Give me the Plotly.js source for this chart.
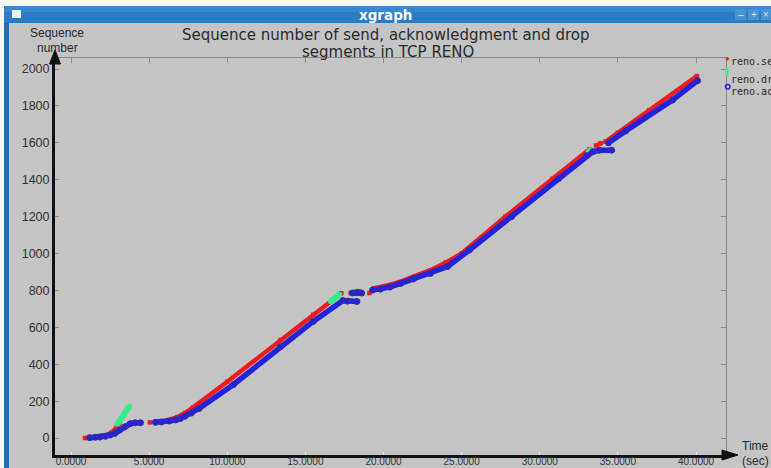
<!DOCTYPE html>
<html>
<head>
<meta charset="utf-8">
<script src="https://cdn.plot.ly/plotly-3.0.1.min.js"></script>
<style>
html,body{margin:0;padding:0;background:#c4c4c4;overflow:hidden;}
#chart{width:771px;height:468px;}
</style>
</head>
<body>
<div id="chart"></div>
<script>
// ---- data ----
const xTickVals = [0, 5, 10, 15, 20, 25, 30, 35, 40];
const xTickText = ['0.0000','5.0000','10.0000','15.0000','20.0000','25.0000','30.0000','35.0000','40.0000'];
const yTickVals = [0, 200, 400, 600, 800, 1000, 1200, 1400, 1600, 1800, 2000];

const sendTime = [0.9,1.4,1.9,2.3,2.6,2.9,3.1,null,5.05,null,6.2,6.8,7.3,7.8,10.0,13.4,15.5,17.3,null,17.9,18.2,18.4,null,19.1,null,19.4,20.0,21.0,22.0,23.0,24.0,25.0,27.8,30.8,33.2,null,33.6,33.9,null,34.2,35.0,37.0,40.06];
const sendSeq  = [0,3,7,15,30,55,75,null,85,null,97,113,135,165,305,531,668,785,null,786,792,796,null,786,null,812,822,845,875,910,952,1000,1200,1405,1566,null,1585,1598,null,1606,1655,1777,1962];

const dropTime = [2.95,3.15,3.35,3.55,3.75,null,16.6,16.9,17.2,null,33.1,33.3];
const dropSeq  = [75,100,125,150,172,null,740,762,780,null,1553,1563];

const ackTime = [1.2,1.55,1.85,2.2,2.5,2.8,3.1,3.45,3.8,4.1,4.45,null,5.4,5.8,6.3,6.7,7.0,7.3,7.7,8.2,10.4,13.4,15.5,17.4,17.7,18.3,null,18.0,18.3,18.6,null,19.3,19.8,20.4,21.1,21.9,23.0,24.1,25.5,28.2,31.2,33.0,33.4,33.8,34.6,null,34.4,35.5,38.5,40.1];
const ackSeq  = [2,4,5,9,16,25,43,61,78,83,83,null,85,87,92,98,106,118,135,160,290,495,632,745,742,740,null,786,787,786,null,802,807,818,838,862,892,930,1019,1200,1405,1530,1552,1560,1560,null,1600,1665,1832,1937];

const legendNames = ['reno.send', 'reno.drop', 'reno.ack'];
const seriesColors = ['#ee1c1c', '#36ec88', '#2323dc'];

// ---- page geometry helpers (pixels -> paper) ----
const L = 55, R = 726, T = 58, B = 455, PW = 771, PH = 468;
const px = x => (x - L) / (R - L);
const py = y => (B - y) / (B - T);

const traces = [
  {x: sendTime, y: sendSeq, mode: 'lines+markers', name: legendNames[0],
   line: {color: seriesColors[0], width: 4.5}, marker: {color: seriesColors[0], size: 4.5, symbol: 'square'}},
  {x: dropTime, y: dropSeq, mode: 'lines+markers', name: legendNames[1],
   line: {color: seriesColors[1], width: 6}, marker: {color: seriesColors[1], size: 5}},
  {x: ackTime, y: ackSeq, mode: 'lines+markers', name: legendNames[2],
   line: {color: seriesColors[2], width: 5.5}, marker: {color: seriesColors[2], size: 6, line: {color: '#3a2f9a', width: 1}}},
  {x: [], y: [], xaxis: 'x2', yaxis: 'y2', showlegend: false, hoverinfo: 'skip', mode: 'markers'}
];

const tickFontX = {family: 'Liberation Sans, Arial, sans-serif', size: 10, color: '#333'};
const tickFontY = {family: 'Liberation Sans, Arial, sans-serif', size: 12.5, color: '#333'};
const xRange = [-1.024, 41.92];
const yRange = [-92, 2060];

const shapes = [
  {type: 'rect', xref: 'paper', yref: 'paper', x0: px(0), x1: px(PW), y0: py(6), y1: py(0), fillcolor: '#f4f6f8', line: {width: 0}},
  {type: 'rect', xref: 'paper', yref: 'paper', x0: px(0), x1: px(4), y0: py(PH), y1: py(0), fillcolor: '#f4f6f8', line: {width: 0}},
  {type: 'rect', xref: 'paper', yref: 'paper', x0: px(4), x1: px(9), y0: py(PH), y1: py(6), fillcolor: '#1f6fb2', line: {width: 0}},
  {type: 'rect', xref: 'paper', yref: 'paper', x0: px(4), x1: px(PW), y0: py(23), y1: py(6), fillcolor: '#2a7dc4', line: {width: 0}},
  {type: 'rect', xref: 'paper', yref: 'paper', x0: px(4), x1: px(PW), y0: py(12), y1: py(6), fillcolor: '#3589cf', line: {width: 0}},
  {type: 'rect', xref: 'paper', yref: 'paper', x0: px(12), x1: px(21), y0: py(18), y1: py(10), fillcolor: '#eef2f6', line: {width: 0}},
  {type: 'rect', xref: 'paper', yref: 'paper', x0: px(735), x1: px(746), y0: py(20), y1: py(9), fillcolor: '#4a93d2', line: {width: 0}},
  {type: 'rect', xref: 'paper', yref: 'paper', x0: px(748), x1: px(759), y0: py(20), y1: py(9), fillcolor: '#4a93d2', line: {width: 0}},
  {type: 'rect', xref: 'paper', yref: 'paper', x0: px(761), x1: px(772), y0: py(20), y1: py(9), fillcolor: '#4a93d2', line: {width: 0}},
  {type: 'path', xref: 'paper', yref: 'paper',
   path: `M ${px(722)} ${py(450)} L ${px(738)} ${py(455)} L ${px(722)} ${py(460)} Z`, fillcolor: '#111', line: {color: '#111', width: 1}},
  {type: 'path', xref: 'paper', yref: 'paper',
   path: `M ${px(49.5)} ${py(64)} L ${px(55)} ${py(50)} L ${px(60.5)} ${py(64)} Z`, fillcolor: '#111', line: {color: '#111', width: 1}},
  {type: 'circle', xref: 'paper', yref: 'paper', x0: px(725.5), x1: px(729), y0: py(60.5), y1: py(57), fillcolor: seriesColors[0], line: {width: 0}},
  {type: 'rect', xref: 'paper', yref: 'paper', x0: px(725.5), x1: px(728.5), y0: py(76), y1: py(68), fillcolor: seriesColors[1], line: {width: 0}},
  {type: 'circle', xref: 'paper', yref: 'paper', x0: px(725.5), x1: px(730), y0: py(89), y1: py(84.5), fillcolor: 'rgba(0,0,0,0)', line: {color: seriesColors[2], width: 1.5}}
];

const sansTxt = 'Liberation Sans, Arial, sans-serif';
const monoTxt = 'DejaVu Sans Mono, Liberation Mono, monospace';
const ann = (x, y, text, size, opts = {}) => Object.assign({
  xref: 'paper', yref: 'paper', x: px(x), y: py(y), text: text, showarrow: false,
  xanchor: 'center', yanchor: 'middle', font: {family: sansTxt, size: size, color: '#2a2a2a'}
}, opts);

const annotations = [
  ann(385, 14.5, '<b>xgraph</b>', 13.5, {font: {family: 'DejaVu Sans, sans-serif', size: 13.5, color: '#ffffff'}}),
  ann(740.5, 14.5, '–', 10, {font: {family: sansTxt, size: 10, color: '#cfe3f5'}}),
  ann(753.5, 14.5, '+', 10, {font: {family: sansTxt, size: 10, color: '#cfe3f5'}}),
  ann(766.5, 14.5, '×', 10, {font: {family: sansTxt, size: 10, color: '#cfe3f5'}}),
  ann(385, 35, 'Sequence number of send, acknowledgment and drop', 15, {font: {family: 'DejaVu Sans, sans-serif', size: 15, color: '#2a2a2a'}}),
  ann(388, 52, 'segments in TCP RENO', 15, {font: {family: 'DejaVu Sans, sans-serif', size: 15, color: '#2a2a2a'}}),
  ann(57, 33.5, 'Sequence', 12),
  ann(57, 48, 'number', 12),
  ann(755, 446, 'Time', 12),
  ann(755, 461, '(sec)', 12),
  ann(729, 62, legendNames[0], 10, {xanchor: 'left', font: {family: monoTxt, size: 10, color: '#2a2a2a'}}),
  ann(729, 79, legendNames[1], 10, {xanchor: 'left', font: {family: monoTxt, size: 10, color: '#2a2a2a'}}),
  ann(729, 91, legendNames[2], 10, {xanchor: 'left', font: {family: monoTxt, size: 10, color: '#2a2a2a'}})
];

const layout = {
  width: PW, height: PH,
  margin: {l: L, r: PW - R, t: T, b: PH - B, pad: 0},
  paper_bgcolor: '#c4c4c4', plot_bgcolor: '#c4c4c4',
  showlegend: false,
  xaxis: {range: xRange, tickvals: xTickVals, ticktext: xTickText, tickfont: tickFontX, ticklabelstandoff: -5,
          showline: true, linecolor: '#111', linewidth: 3, ticks: 'inside', ticklen: 3, tickcolor: '#e6e6e6',
          showgrid: false, zeroline: false, fixedrange: true},
  yaxis: {range: yRange, tickvals: yTickVals, tickfont: tickFontY,
          showline: true, linecolor: '#111', linewidth: 3, ticks: 'inside', ticklen: 4, tickcolor: '#8a8a8a',
          showgrid: false, zeroline: false, fixedrange: true},
  xaxis2: {range: xRange, overlaying: 'x', side: 'top', anchor: 'y2', tickvals: xTickVals, showticklabels: false,
           showline: true, linecolor: '#8a8a8a', linewidth: 1.2, ticks: 'inside', ticklen: 5, tickcolor: '#8a8a8a',
           showgrid: false, zeroline: false},
  yaxis2: {range: yRange, overlaying: 'y', side: 'right', anchor: 'x2', tickvals: yTickVals, showticklabels: false,
           showline: true, linecolor: '#8a8a8a', linewidth: 1.2, ticks: 'inside', ticklen: 5, tickcolor: '#8a8a8a',
           showgrid: false, zeroline: false},
  shapes: shapes,
  annotations: annotations
};

Plotly.newPlot('chart', traces, layout, {staticPlot: true, displayModeBar: false});
</script>
</body>
</html>
